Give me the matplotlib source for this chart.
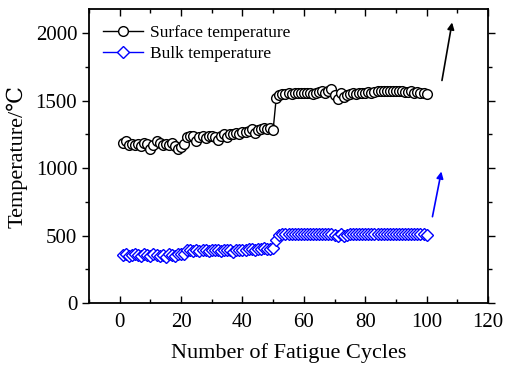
import matplotlib
matplotlib.use('Agg')
import matplotlib.pyplot as plt
import numpy as np

plt.rcParams['font.family'] = ['Liberation Serif', 'DejaVu Serif']
plt.rcParams['mathtext.fontset'] = 'stix'

cycles = list(range(1, 101))

surface_temp = [
    1190, 1200, 1170, 1180, 1175, 1180, 1165, 1185, 1180, 1140,
    1170, 1200, 1185, 1175, 1180, 1170, 1190, 1165, 1140, 1160,
    1180, 1230, 1240, 1235, 1200, 1230, 1240, 1225, 1235, 1240,
    1230, 1210, 1240, 1250, 1230, 1250, 1255, 1260, 1250, 1270,
    1265, 1275, 1290, 1260, 1280, 1290, 1295, 1290, 1300, 1285,
    1520, 1545, 1550, 1550, 1555, 1550, 1555, 1555, 1560, 1555,
    1555, 1560, 1550, 1560, 1565, 1575, 1555, 1570, 1590, 1540,
    1510, 1560, 1530, 1545, 1550, 1555, 1550, 1555, 1560, 1560,
    1565, 1560, 1565, 1570, 1575, 1570, 1575, 1570, 1570, 1570,
    1570, 1570, 1565, 1565, 1570, 1560, 1565, 1555, 1560, 1550,
]

bulk_temp = [
    355, 360, 350, 355, 360, 355, 350, 360, 355, 345,
    360, 355, 350, 355, 340, 360, 355, 350, 360, 365,
    360, 395, 390, 385, 390, 385, 390, 390, 385, 390,
    395, 390, 385, 390, 395, 395, 380, 390, 395, 395,
    390, 400, 400, 395, 400, 400, 405, 400, 400, 405,
    470, 505, 510, 510, 510, 510, 510, 510, 510, 510,
    510, 510, 510, 510, 510, 510, 510, 510, 510, 505,
    500, 510, 500, 505, 510, 510, 510, 510, 510, 510,
    510, 510, 510, 510, 510, 510, 510, 510, 510, 510,
    510, 510, 510, 510, 510, 510, 510, 510, 510, 505,
]

# arrows (start x, start y, end x, end y)
surface_arrow = [105.0, 1650, 108.3, 2080]
bulk_arrow = [101.9, 640, 104.8, 975]

fig = plt.figure(figsize=(5.05, 3.7), dpi=100)
ax = fig.add_axes([89 / 505, 1 - 303 / 370, (488 - 89) / 505, (303 - 9) / 370])

ax.plot(cycles, surface_temp, '-o', color='black', lw=1.0, ms=7,
        mfc='white', mec='black', mew=1.0, label='Surface temperature')
ax.plot(cycles, bulk_temp, '-D', color='blue', lw=1.0, ms=5.8,
        mfc='white', mec='blue', mew=1.0, label='Bulk temperature')

for arr, c in [(surface_arrow, 'black'), (bulk_arrow, 'blue')]:
    ax.annotate('', xy=(arr[2], arr[3]), xytext=(arr[0], arr[1]),
                arrowprops=dict(arrowstyle='-|>', color=c, lw=1.2,
                                mutation_scale=10, shrinkA=0, shrinkB=0))

ax.set_xlim(-10, 120)
ax.set_ylim(0, 2180)
ax.set_xticks([0, 20, 40, 60, 80, 100, 120])
ax.set_yticks([0, 500, 1000, 1500, 2000])
ax.set_xticks(np.arange(-10, 121, 10), minor=True)
ax.set_yticks(np.arange(0, 2181, 250), minor=True)
ax.tick_params(axis='x', which='both', direction='in', top=True, labelsize=15, pad=7)
ax.tick_params(axis='y', which='both', direction='out', right=True, labelsize=15)
ax.tick_params(which='major', length=5, width=1)
ax.tick_params(which='minor', length=3, width=1)
for s in ax.spines.values():
    s.set_linewidth(1.3)

ax.set_xlabel('Number of Fatigue Cycles', fontsize=16, labelpad=8)
ax.set_ylabel('Temperature/\u2103', fontsize=16, labelpad=6)

ax.legend(loc='upper left', frameon=False, fontsize=12.5, handlelength=2.3,
          handletextpad=0.4, labelspacing=0.25, borderaxespad=0.2,
          bbox_to_anchor=(0.01, 0.98))

fig.savefig('out.png', dpi=100)
